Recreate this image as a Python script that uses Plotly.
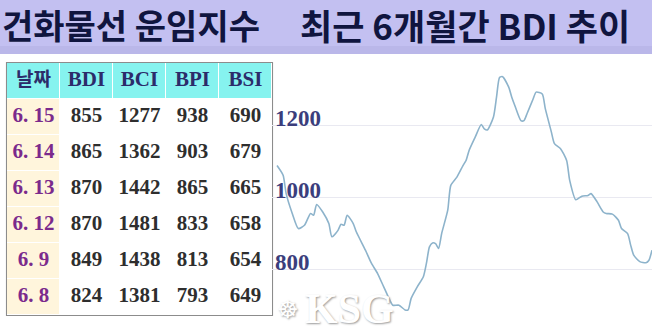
import plotly.graph_objects as go

# ---- table data ----
dates = ["6. 15", "6. 14", "6. 13", "6. 12", "6. 9", "6. 8"]
bdi = [855, 865, 870, 870, 849, 824]
bci = [1277, 1362, 1442, 1481, 1438, 1381]
bpi = [938, 903, 865, 833, 813, 793]
bsi = [690, 679, 665, 658, 654, 649]
header_labels = ["날짜", "BDI", "BCI", "BPI", "BSI"]

# ---- 6-month BDI trend (trading-day index, value) ----
days = [2, 4, 5, 7, 9, 11, 13, 14, 15, 17, 19, 20, 22, 23, 24, 25, 27, 28, 31, 33,
        35, 37, 39, 40, 42, 44, 45, 46, 48, 50, 51, 52, 53, 54, 55, 56, 58, 59, 61, 63,
        64, 65, 67, 69, 70, 71, 73, 74, 75, 76, 78, 79, 80, 82, 83, 84, 86, 87, 89, 90,
        92, 93, 95, 97, 98, 100, 102, 104, 105, 107, 109, 110, 112, 114, 115, 117, 118,
        119, 121, 123, 124, 125]
bdi_trend = [1090, 1063, 1012, 957, 915, 924, 957, 952, 982, 961, 929, 892, 910, 927,
             924, 952, 929, 906, 855, 818, 790, 753, 716, 702, 702, 689, 689, 721, 753,
             781, 818, 864, 875, 873, 860, 901, 966, 1035, 1058, 1090, 1104, 1132, 1169,
             1204, 1192, 1189, 1225, 1280, 1335, 1337, 1308, 1280, 1257, 1215, 1215, 1234,
             1275, 1294, 1289, 1248, 1183, 1151, 1137, 1104, 1049, 995, 1005, 1007, 1012,
             989, 961, 957, 955, 938, 915, 901, 869, 841, 823, 820, 827, 855]
y_ticks = [800, 1000, 1200]

W, H = 652, 334
serif = "Liberation Serif"

fig = go.Figure()

# ---- trend line ----
fig.add_trace(go.Scatter(
    x=days, y=bdi_trend, mode="lines",
    line=dict(color="#8db3cb", width=1.6, shape="spline", smoothing=0.6),
    hoverinfo="skip", showlegend=False, xaxis="x", yaxis="y",
))

# ---- table built on its own axes ----
n_rows = len(dates) + 1
n_cols = len(header_labels)
cols = list(range(n_cols))
rows = list(range(n_rows))
# z code: 2 header, 1 date column, 0 plain
z = [[2] * n_cols] + [[1] + [0] * (n_cols - 1) for _ in dates]
fig.add_trace(go.Heatmap(
    z=z, x=cols, y=rows, xaxis="x2", yaxis="y2",
    colorscale=[[0, "#ffffff"], [0.5, "#fff5dc"], [1, "#86f3ef"]],
    zmin=0, zmax=2, showscale=False, xgap=1, ygap=1, hoverinfo="skip",
))

# header text
fig.add_trace(go.Scatter(
    x=cols, y=[0] * n_cols, mode="text", xaxis="x2", yaxis="y2",
    text=[f"<b>{h}</b>" for h in header_labels],
    textposition="middle center",
    textfont=dict(family=["Noto Sans CJK KR"] + [serif] * (n_cols - 1),
                  size=[19] + [21] * (n_cols - 1), color="#2c2c6a"),
    hoverinfo="skip", showlegend=False,
))
# date column
fig.add_trace(go.Scatter(
    x=[0] * len(dates), y=list(range(1, n_rows)), mode="text", xaxis="x2", yaxis="y2",
    text=[f"<b>{d}</b>" for d in dates], textposition="middle center",
    textfont=dict(family=serif, size=21, color="#7b2a8c"),
    hoverinfo="skip", showlegend=False,
))
# numbers
num_x, num_y, num_t = [], [], []
for ci, series in enumerate([bdi, bci, bpi, bsi], start=1):
    for ri, v in enumerate(series, start=1):
        num_x.append(ci)
        num_y.append(ri)
        num_t.append(f"<b>{v}</b>")
fig.add_trace(go.Scatter(
    x=num_x, y=num_y, mode="text", xaxis="x2", yaxis="y2",
    text=num_t, textposition="middle center",
    textfont=dict(family=serif, size=21, color="#2e2e2e"),
    hoverinfo="skip", showlegend=False,
))

fig.update_layout(
    width=W, height=H, autosize=False,
    margin=dict(l=0, r=0, t=0, b=0),
    paper_bgcolor="white", plot_bgcolor="white",
    xaxis=dict(domain=[270 / W, 1], range=[-0.3, 125], visible=False),
    yaxis=dict(domain=[0, 1], range=[622, 1550], tickvals=y_ticks,
               showgrid=True, gridcolor="#e9e9f1", gridwidth=1, zeroline=False,
               showline=False, ticks="", ticklabelposition="inside",
               ticklabelshift=-8, ticklabelstandoff=2,
               tickfont=dict(family=serif, size=23, color="#3b3e7c", weight="bold")),
    xaxis2=dict(domain=[7 / W, 272 / W], range=[-0.5, n_cols - 0.5], visible=False,
                anchor="y2", fixedrange=True),
    yaxis2=dict(domain=[1 - 315 / H, 1 - 63 / H], range=[n_rows - 0.5, -0.5], visible=False,
                anchor="x2", fixedrange=True),
    shapes=[
        # table border/background seen through the cell gaps
        dict(type="rect", xref="x2 domain", yref="y2 domain", x0=-0.004, x1=1.004,
             y0=-0.004, y1=1.004, fillcolor="#8c8c8c", line=dict(width=0), layer="below"),
        dict(type="rect", xref="paper", yref="paper", x0=0, x1=1, y0=1 - 54 / H, y1=1,
             fillcolor="#c3c0f1", line=dict(width=0), layer="above"),
        dict(type="rect", xref="paper", yref="paper", x0=0, x1=1, y0=1 - 54 / H, y1=1 - 46 / H,
             fillcolor="#bab7e9", line=dict(width=0), layer="above"),
    ],
    annotations=[
        dict(text="건화물선 운임지수", xref="paper", yref="paper", x=0, y=1 - 25 / H,
             xanchor="left", yanchor="middle", showarrow=False,
             font=dict(family="Noto Sans CJK KR", size=34, color="#10153f", weight="bold")),
        dict(text="최근 6개월간 BDI 추이", xref="paper", yref="paper", x=298 / W, y=1 - 25 / H,
             xanchor="left", yanchor="middle", showarrow=False,
             font=dict(family="Noto Sans CJK KR", size=35, color="#10153f", weight="bold")),
        dict(text="KSG", xref="paper", yref="paper", x=349 / W, y=1 - 309 / H,
             xanchor="center", yanchor="middle", showarrow=False,
             font=dict(family=serif, size=42, color="#ffffff", weight="bold",
                       shadow="1px 1px 2px #9a9a9a")),
        dict(text="☸", xref="paper", yref="paper", x=288 / W, y=1 - 310 / H,
             xanchor="center", yanchor="middle", showarrow=False,
             font=dict(family="DejaVu Sans", size=24, color="#ffffff",
                       shadow="1px 1px 2px #9a9a9a")),
    ],
)

fig.write_html("out.html")
